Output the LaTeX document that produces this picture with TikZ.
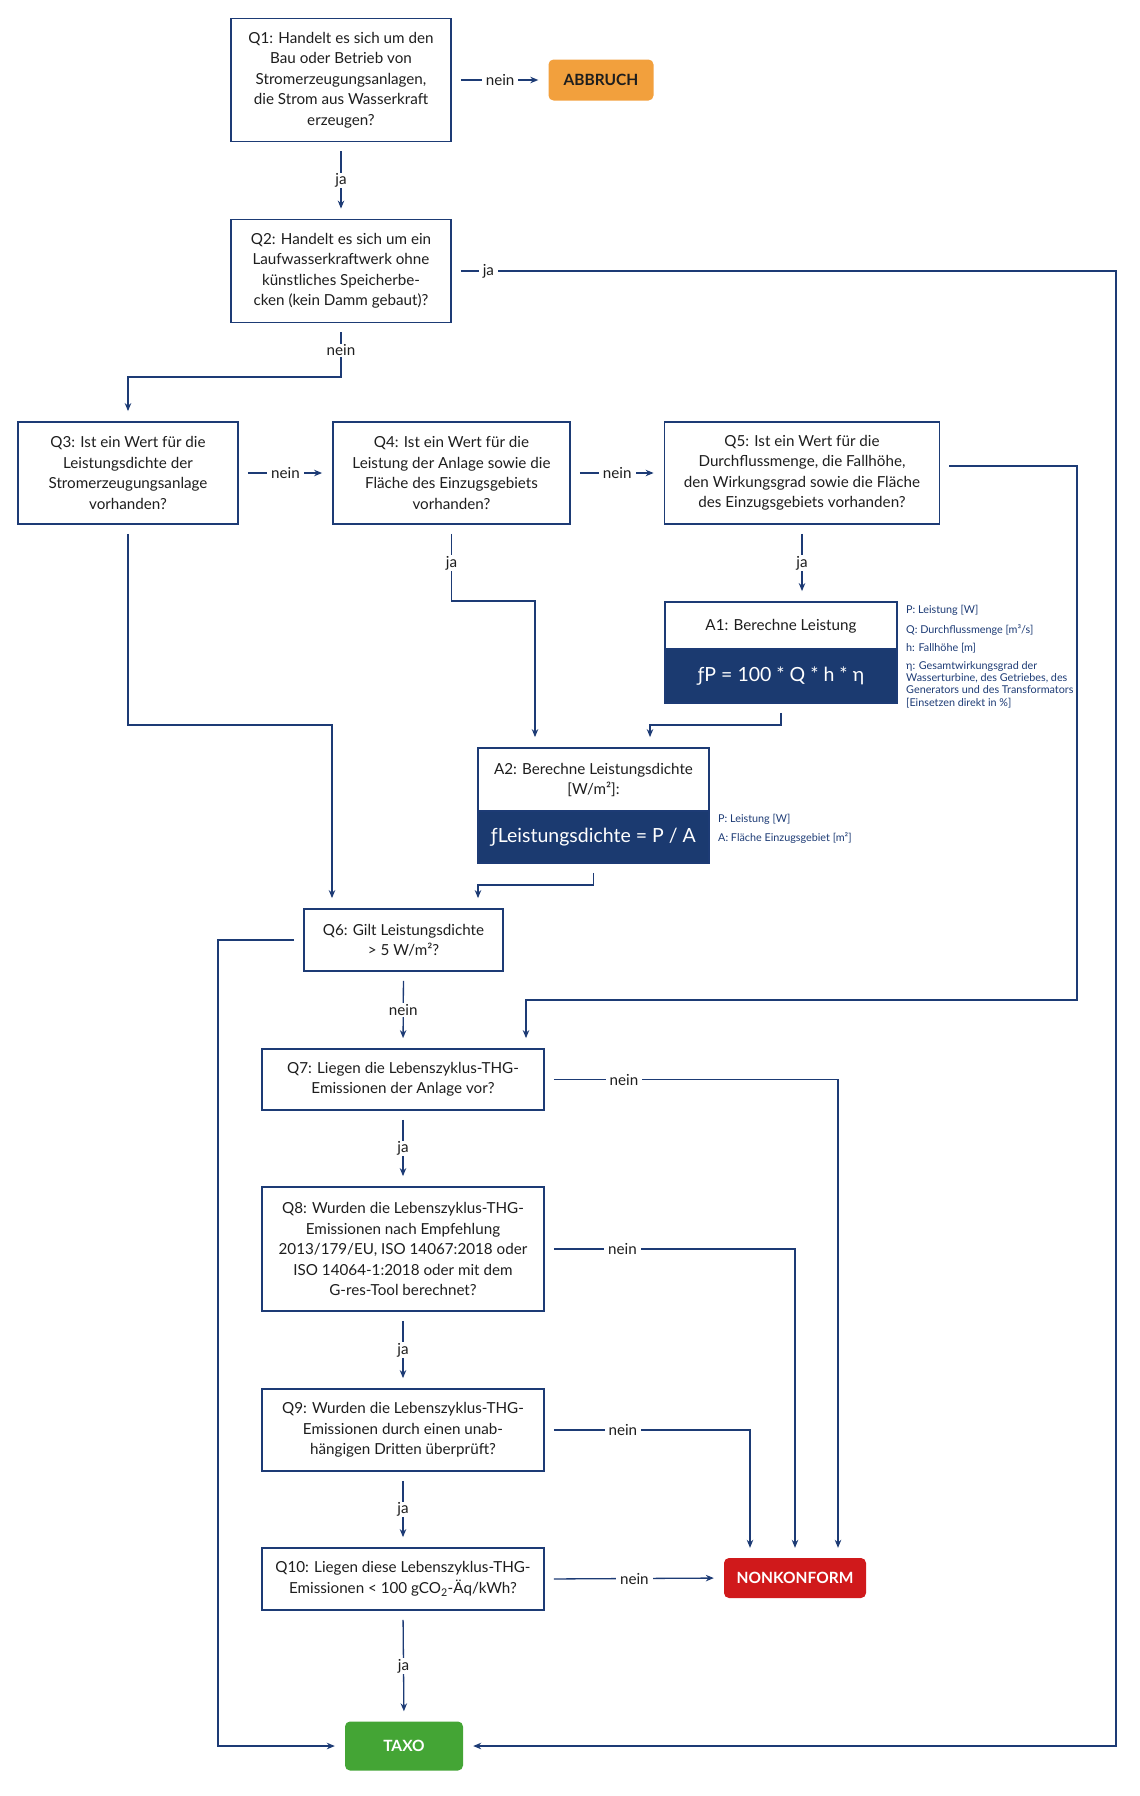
\documentclass[tikz,border=0pt]{standalone}
\usepackage{fontspec}
\setmainfont{Lato}
\usetikzlibrary{arrows.meta}
\definecolor{navy}{HTML}{1D3B75}
\definecolor{darkbox}{HTML}{1B3A70}
\definecolor{txt}{HTML}{1E1E1E}
\definecolor{orangebox}{HTML}{F2A03D}
\definecolor{redbox}{HTML}{D0191B}
\definecolor{greenbox}{HTML}{44A535}
\tikzset{
  qbox/.style={draw=navy, line width=1.8pt, fill=white, align=center, inner sep=0pt,
    text=txt, font=\fontsize{15.2}{20.5}\selectfont},
  endbox/.style={rounded corners=5pt, inner sep=0pt, align=center,
    font=\fontsize{15.5}{18}\selectfont\bfseries},
  conn/.style={draw=navy, line width=1.3pt, -{Stealth[length=8pt,width=6.5pt]},
    shorten <=9pt, shorten >=10pt},
  lbl/.style={fill=white, inner xsep=4pt, inner ysep=1pt, text=txt,
    font=\fontsize{15.2}{17}\selectfont},
  legend/.style={anchor=north west, align=left, inner sep=0pt, text=navy,
    font=\fontsize{10.8}{12.3}\selectfont},
  formula/.style={fill=darkbox, draw=navy, line width=1.8pt, inner sep=0pt, text=white,
    font=\fontsize{19.5}{22}\selectfont}
}
\begin{document}
\begin{tikzpicture}[x=1pt,y=-1pt]
\useasboundingbox (0,0) rectangle (1140,1796);

% Question boxes
\node[qbox, minimum width=220pt, minimum height=123pt] (Q1) at (341,80)
  {Q1: Handelt es sich um den\\Bau oder Betrieb von\\Stromerzeugungsanlagen,\\die Strom aus Wasserkraft\\erzeugen?};
\node[endbox, fill=orangebox, text=txt, minimum width=105pt, minimum height=41pt] (AB) at (601,80) {ABBRUCH};
\node[qbox, minimum width=220pt, minimum height=103pt] (Q2) at (341,271)
  {Q2: Handelt es sich um ein\\Laufwasserkraftwerk ohne\\künstliches Speicherbe-\\cken (kein Damm gebaut)?};
\node[qbox, minimum width=220pt, minimum height=102pt] (Q3) at (128,473)
  {Q3: Ist ein Wert für die\\Leistungsdichte der\\Stromerzeugungsanlage\\vorhanden?};
\node[qbox, minimum width=237pt, minimum height=102pt] (Q4) at (451.5,473)
  {Q4: Ist ein Wert für die\\Leistung der Anlage sowie die\\Fläche des Einzugsgebiets\\vorhanden?};
\node[qbox, minimum width=275pt, minimum height=102pt] (Q5) at (802,473)
  {Q5: Ist ein Wert für die\\Durchflussmenge, die Fallhöhe,\\den Wirkungsgrad sowie die Fläche\\des Einzugsgebiets vorhanden?};

% A1
\node[qbox, minimum width=232pt, minimum height=101pt] (A1) at (781,652.5) {};
\node[formula, minimum width=232pt, minimum height=54pt, anchor=south] (A1f) at (A1.south) {ƒP = 100 * Q * h * η};
\node[text=txt, font=\fontsize{15.2}{20.5}\selectfont, inner sep=0pt] (A1t) at (781,626) {A1: Berechne Leistung};
\node[legend] (L1) at (906,605) {P: Leistung [W]};
\node[legend] (L2) at (906,624) {Q: Durchflussmenge [m³/s]};
\node[legend] (L3) at (906,643) {h: Fallhöhe [m]};
\node[legend] (L4) at (906,661) {η: Gesamtwirkungsgrad der\\Wasserturbine, des Getriebes, des\\Generators und des Transformators\\{[Einsetzen direkt in \%]}};

% A2
\node[qbox, minimum width=231pt, minimum height=115pt] (A2) at (593.5,805.5) {};
\node[formula, minimum width=231pt, minimum height=52pt, anchor=south] (A2f) at (A2.south) {ƒLeistungsdichte = P / A};
\node[text=txt, font=\fontsize{15.2}{20.5}\selectfont, align=center, inner sep=0pt] (A2t) at (593.5,780) {A2: Berechne Leistungsdichte\\{[W/m²]}:};
\node[legend] (L5) at (718,814) {P: Leistung [W]};
\node[legend] (L6) at (718,832) {A: Fläche Einzugsgebiet [m²]};

\node[qbox, minimum width=199pt, minimum height=62pt] (Q6) at (403.5,940)
  {Q6: Gilt Leistungsdichte\\> 5 W/m²?};
\node[qbox, minimum width=282pt, minimum height=61pt] (Q7) at (403,1079.5)
  {Q7: Liegen die Lebenszyklus-THG-\\Emissionen der Anlage vor?};
\node[qbox, minimum width=282pt, minimum height=124pt] (Q8) at (403,1249)
  {Q8: Wurden die Lebenszyklus-THG-\\Emissionen nach Empfehlung\\2013/179/EU, ISO 14067:2018 oder\\ISO 14064-1:2018 oder mit dem\\G-res-Tool berechnet?};
\node[qbox, minimum width=282pt, minimum height=82pt] (Q9) at (403,1430)
  {Q9: Wurden die Lebenszyklus-THG-\\Emissionen durch einen unab-\\hängigen Dritten überprüft?};
\node[qbox, minimum width=282pt, minimum height=62pt] (Q10) at (403,1579)
  {Q10: Liegen diese Lebenszyklus-THG-\\Emissionen < 100 gCO\textsubscript{2}-Äq/kWh?};
\node[endbox, fill=redbox, text=white, minimum width=142pt, minimum height=40pt] (NK) at (795,1578) {NONKONFORM};
\node[endbox, fill=greenbox, text=white, minimum width=118pt, minimum height=49pt] (TAXO) at (404,1746) {TAXO};

% Connectors
\draw[conn] (Q1.east) -- node[lbl]{nein} (AB.west);
\draw[conn] (Q1.south) -- node[lbl]{ja} (Q2.north);
\draw[conn] (Q2.east) -- node[lbl, pos=0.055]{ja} (1116,271) -- (1116,1746) -- (TAXO.east);
\draw[conn] (Q2.south) -- node[lbl]{nein} (341,377) -- (128,377) -- (Q3.north);
\draw[conn] (Q3.east) -- node[lbl]{nein} (Q4.west);
\draw[conn] (Q4.east) -- node[lbl]{nein} (Q5.west);
\draw[conn] ([yshift=7pt]Q5.east) -- (1077,466) -- (1077,1000) -- (526,1000) -- (526,0 |- Q7.north);
\draw[conn] (Q5.south) -- node[lbl]{ja} (802,0 |- A1.north);
\draw[conn] (Q4.south) -- node[lbl]{ja} (451.5,601) -- (535,601) -- (535,0 |- A2.north);
\draw[conn] (A1.south) -- (781,725) -- (650,725) -- (650,0 |- A2.north);
\draw[conn] (A2.south) -- (593.5,885) -- (478,885) -- (478,0 |- Q6.north);
\draw[conn] (Q3.south) -- (128,725) -- (332,725) -- (332,0 |- Q6.north);
\draw[conn] (Q6.west) -- (218,940) -- (218,1746) -- (TAXO.west);
\draw[conn] (Q6.south) -- node[lbl]{nein} (Q7.north);
\draw[conn] (Q7.south) -- node[lbl]{ja} (Q8.north);
\draw[conn] (Q8.south) -- node[lbl]{ja} (Q9.north);
\draw[conn] (Q9.south) -- node[lbl]{ja} (Q10.north);
\draw[conn] (Q10.south) -- node[lbl]{ja} (TAXO.north);
\draw[conn] (Q7.east) -- node[lbl, pos=0.27]{nein} (838,1079.5) -- (838,0 |- NK.north);
\draw[conn] (Q8.east) -- node[lbl, pos=0.31]{nein} (795,1249) -- (NK.north);
\draw[conn] (Q9.east) -- node[lbl, pos=0.38]{nein} (750,1430) -- (750,0 |- NK.north);
\draw[conn] (Q10.east) -- node[lbl]{nein} (NK.west);
\end{tikzpicture}
\end{document}
